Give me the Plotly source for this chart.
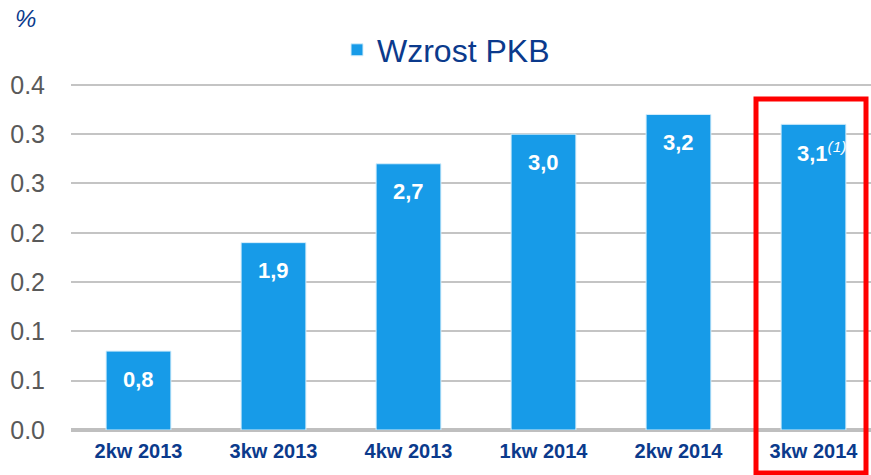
import plotly.graph_objects as go

categories = ["2kw 2013", "3kw 2013", "4kw 2013", "1kw 2014", "2kw 2014", "3kw 2014"]
values = [0.08, 0.19, 0.27, 0.30, 0.32, 0.31]
bar_labels = ["0,8", "1,9", "2,7", "3,0", "3,2", "3,1"]
label_notes = ["", "", "", "", "", "(1)"]
tick_vals = [0.0, 0.05, 0.10, 0.15, 0.20, 0.25, 0.30, 0.35]
tick_text = ["0.0", "0.1", "0.1", "0.2", "0.2", "0.3", "0.3", "0.4"]
series_name = "Wzrost PKB"

BAR = "#179BE8"
NAVY = "#0B3A8C"
FONT = "Liberation Sans, Arial"

L, R, T, B = 71, 0, 75, 45
W, H = 871, 475
PW, PH = W - L - R, H - T - B

def px_x(px):
    return (px - L) / PW

def px_y(py):
    return (H - B - py) / PH

fig = go.Figure()
fig.add_trace(go.Bar(
    x=list(range(len(categories))), y=values, name=series_name,
    marker=dict(color=BAR, line=dict(color="#D6EEFB", width=1)),
    width=0.48, showlegend=True,
))

for i, (v, lab, note) in enumerate(zip(values, bar_labels, label_notes)):
    txt = f"<b>{lab}</b>"
    if note:
        txt += f"<sup><i>{note}</i></sup>"
    fig.add_annotation(x=i, y=v, text=txt, showarrow=False, yanchor="middle",
                       yshift=-28, xshift=(8 if note else 0),
                       font=dict(size=22, color="white", family=FONT))

fig.add_annotation(xref="paper", yref="paper", x=px_x(13), y=px_y(19), text="<i>%</i>",
                   showarrow=False, xanchor="left", yanchor="middle",
                   font=dict(size=24, color=NAVY, family=FONT))

fig.add_shape(type="rect", xref="paper", yref="paper",
              x0=px_x(756), x1=px_x(866), y0=px_y(473), y1=px_y(99),
              line=dict(color="#FF0000", width=5), fillcolor="rgba(0,0,0,0)", layer="above")

fig.update_layout(
    width=W, height=H, margin=dict(l=L, r=R, t=T, b=B),
    plot_bgcolor="white", paper_bgcolor="white",
    font=dict(family=FONT),
    legend=dict(orientation="h", x=px_x(337), y=px_y(50), xanchor="left", yanchor="middle",
                font=dict(size=32, color=NAVY), bgcolor="rgba(0,0,0,0)", itemwidth=30),
    xaxis=dict(tickmode="array", tickvals=list(range(len(categories))), ticktext=categories,
               range=[-0.5, 5.426], showgrid=False, zeroline=False, showline=False,
               ticks="outside", ticklen=3, tickcolor="rgba(0,0,0,0)",
               tickfont=dict(size=20, color=NAVY, family=FONT, weight="bold")),
    yaxis=dict(range=[0, 0.36], tickmode="array", tickvals=tick_vals, ticktext=tick_text,
               showgrid=True, gridcolor="#C4C4C4", gridwidth=2,
               zeroline=True, zerolinecolor="#BFBFBF", zerolinewidth=4,
               ticks="outside", ticklen=20, tickcolor="rgba(0,0,0,0)",
               tickfont=dict(size=25, color="#595959", family=FONT)),
)

fig.write_html("out.html", config={"displayModeBar": False},
               post_script="document.body.style.margin='0';document.body.style.overflow='hidden';")
